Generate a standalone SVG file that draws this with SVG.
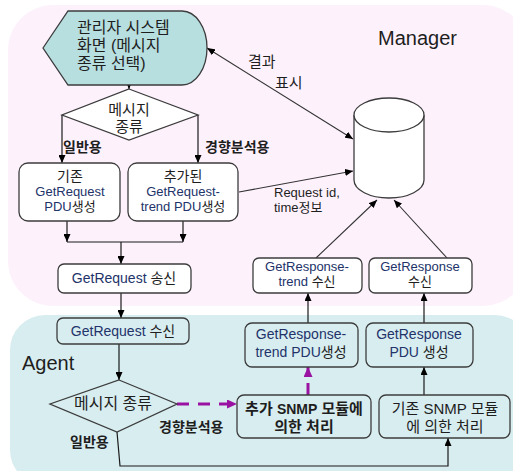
<svg xmlns="http://www.w3.org/2000/svg" width="513" height="471" viewBox="0 0 513 471">
<style>
text{font-family:"Liberation Sans","Noto Sans CJK KR",sans-serif;fill:#1e1e1e}
.k{font-size:15px}
.l{font-size:13px}
.b{font-size:14px;font-weight:bold}
.c{text-anchor:middle}
.en{fill:#22336a}
.big{font-size:20px}
.box{fill:#fff;stroke:#3c3c3c;stroke-width:1.3}
.abox{fill:#d8edf0;stroke:#3c3c3c;stroke-width:1.3}
.ln{fill:none;stroke:#1a1a1a;stroke-width:1.2}
.gl{fill:none;stroke:#333;stroke-width:1.1}
.pd{fill:none;stroke:#9a12a2;stroke-width:3;stroke-dasharray:12,9}
</style>
<defs>
<marker id="a" viewBox="0 0 8 7" markerWidth="8" markerHeight="7" refX="8" refY="3.5" orient="auto-start-reverse" markerUnits="userSpaceOnUse"><path d="M0,0L8,3.5L0,7z" fill="#000"/></marker>
<marker id="p" viewBox="0 0 10 9" markerWidth="10" markerHeight="9" refX="10" refY="4.5" orient="auto" markerUnits="userSpaceOnUse"><path d="M0,0L10,4.5L0,9z" fill="#9a12a2"/></marker>
</defs>
<g id="backgrounds">
<rect x="8" y="5" width="520" height="301" rx="45" fill="#fdf2fc"/>
<rect x="10" y="315" width="520" height="170" rx="35" fill="#d8edf0"/>
<text class="big" x="378" y="45">Manager</text>
<text class="big" x="22" y="370">Agent</text>
</g>
<g id="connectors">
<path class="ln" d="M129,84L129,89" marker-end="url(#a)"/>
<path class="ln" d="M62,115L62,163" marker-end="url(#a)"/>
<path class="ln" d="M198,115L198,163" marker-end="url(#a)"/>
<path class="ln" d="M67,221L67,242" marker-end="url(#a)"/>
<path class="ln" d="M183,221L183,242" marker-end="url(#a)"/>
<path class="ln" d="M67,242L183,242"/>
<path class="ln" d="M121,242L121,264" marker-end="url(#a)"/>
<path class="ln" d="M121,293L121,318" marker-end="url(#a)"/>
<path class="ln" d="M119,344L119,380" marker-end="url(#a)"/>
<path class="ln" d="M117,432L120,466L448,466L448,438" marker-end="url(#a)"/>
<path class="pd" d="M177,404L237,404" marker-end="url(#p)"/>
<path class="pd" d="M308,395L308,367" marker-end="url(#p)"/>
<path class="ln" d="M424,395L424,367" marker-end="url(#a)"/>
<path class="ln" d="M308,323L308,293" marker-end="url(#a)"/>
<path class="ln" d="M424,323L424,293" marker-end="url(#a)"/>
<path class="gl" d="M316,258L377,200" marker-end="url(#a)"/>
<path class="gl" d="M447,258L394,200" marker-end="url(#a)"/>
<path class="gl" d="M239,192L353,171" marker-end="url(#a)"/>
<path class="gl" d="M207,48L353,139" marker-start="url(#a)" marker-end="url(#a)"/>
<text class="k" x="248" y="67">결과</text>
<text class="k" x="275" y="88">표시</text>
<text style="font-size:13px" x="274" y="197">Request id,</text>
<text style="font-size:13px" x="274" y="212">time정보</text>
<text class="b" x="63" y="152">일반용</text>
<text class="b" x="205" y="152">경향분석용</text>
<text class="b" x="159" y="432">경향분석용</text>
<text class="b" x="70" y="447">일반용</text>
</g>
<g id="display">
<path d="M43,48L68,11L182,11A25,37 0 0 1 182,85L68,85Z" fill="#b8dfe0" stroke="#3c3c3c" stroke-width="1.3"/>
<text style="font-size:16px" x="77" y="33">관리자 시스템</text>
<text style="font-size:16px" x="77" y="51">화면 (메시지</text>
<text style="font-size:16px" x="77" y="69">종류 선택)</text>
</g>
<g id="decision1">
<path d="M129,89L198,115L129,140L62,115Z" fill="#fff" stroke="#3c3c3c" stroke-width="1.3"/>
<text class="k c" x="129" y="115">메시지</text>
<text class="k c" x="129" y="132">종류</text>
</g>
<g id="box-basic-req">
<rect class="box" x="19" y="163" width="101" height="58" rx="9"/>
<text class="l c" style="font-size:14px" x="70" y="181">기존</text>
<text class="l c en" x="70" y="196">GetRequest</text>
<text class="l c" x="70" y="211"><tspan class="en">PDU</tspan>생성</text>
</g>
<g id="box-trend-req">
<rect class="box" x="128" y="163" width="110" height="58" rx="9"/>
<text class="l c" style="font-size:14px" x="183" y="181">추가된</text>
<text class="l c en" x="183" y="196">GetRequest-</text>
<text class="l c" x="183" y="211"><tspan class="en">trend PDU</tspan>생성</text>
</g>
<g id="box-send">
<rect class="box" x="58" y="264" width="133" height="29" rx="6"/>
<text class="c" style="font-size:14px" x="124" y="283"><tspan class="en">GetRequest</tspan> 송신</text>
</g>
<g id="db">
<path d="M354,115L354,180A35,18 0 0 0 424,180L424,115" fill="#fff" stroke="#3c3c3c" stroke-width="1.3"/>
<ellipse cx="389" cy="115" rx="35" ry="17" fill="#fff" stroke="#3c3c3c" stroke-width="1.3"/>
</g>
<g id="box-trend-recv">
<rect class="box" x="253" y="258" width="109" height="35" rx="6"/>
<text class="l c en" x="307" y="271">GetResponse-</text>
<text class="l c" x="307" y="286"><tspan class="en">trend</tspan> 수신</text>
</g>
<g id="box-resp-recv">
<rect class="box" x="369" y="258" width="103" height="35" rx="6"/>
<text class="l c en" x="420" y="271">GetResponse</text>
<text class="l c" x="420" y="286">수신</text>
</g>
<g id="box-recv">
<rect class="abox" x="57" y="318" width="132" height="26" rx="6"/>
<text class="c" style="font-size:14px" x="123" y="336"><tspan class="en">GetRequest</tspan> 수신</text>
</g>
<g id="box-trend-pdu">
<rect class="abox" x="245" y="323" width="113" height="44" rx="7"/>
<text class="c en" style="font-size:14px" x="301" y="339">GetResponse-</text>
<text class="c" style="font-size:14px" x="301" y="357"><tspan class="en">trend PDU</tspan>생성</text>
</g>
<g id="box-resp-pdu">
<rect class="abox" x="366" y="323" width="107" height="44" rx="7"/>
<text class="c en" style="font-size:14px" x="419" y="339">GetResponse</text>
<text class="c" style="font-size:14px" x="419" y="357"><tspan class="en">PDU</tspan> 생성</text>
</g>
<g id="decision2">
<path d="M119,380L177,404L117,432L50,404Z" fill="#d8edf0" stroke="#3c3c3c" stroke-width="1.3"/>
<text class="c" style="font-size:16px" x="113" y="409">메시지 종류</text>
</g>
<g id="box-add-proc">
<rect class="abox" x="237" y="395" width="134" height="43" rx="7"/>
<text class="c" style="font-size:15px;font-weight:bold" x="304" y="414">추가 <tspan style="font-size:14px">SNMP</tspan> 모듈에</text>
<text class="c" style="font-size:15px;font-weight:bold" x="304" y="432">의한 처리</text>
</g>
<g id="box-basic-proc">
<rect class="abox" x="379" y="395" width="131" height="43" rx="7"/>
<text class="c k" x="445" y="414">기존 SNMP 모듈</text>
<text class="c k" x="445" y="432">에 의한 처리</text>
</g>
</svg>
